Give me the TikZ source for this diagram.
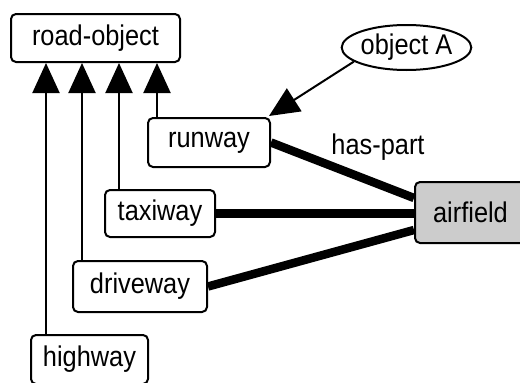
\documentclass[tikz,border=0pt]{standalone}
\usepackage{fontspec}
\setmainfont[FakeStretch=0.89]{Liberation Sans}
\usetikzlibrary{arrows.meta,shapes.geometric}
\begin{document}
\begin{tikzpicture}[x=1pt,y=-1pt,
  lbl/.style={font=\fontsize{28.5}{32}\selectfont},
  box/.style={draw, line width=2pt, rounded corners=5pt, inner sep=0pt, lbl, fill=white},
  isa/.style={line width=2pt, -{Triangle[width=27pt,length=30pt]}},
  part/.style={line width=8.5pt}]
\useasboundingbox (0,0) rectangle (520,383);
\node[box, minimum width=169pt, minimum height=48pt] (road) at (95.5,38) {road-object};
\node[box, minimum width=122pt, minimum height=49pt] (runway) at (209,142.5) {runway};
\node[box, minimum width=110pt, minimum height=47pt] (taxiway) at (160,213.5) {taxiway};
\node[box, minimum width=134pt, minimum height=51pt] (driveway) at (140,286.5) {driveway};
\node[box, minimum width=117pt, minimum height=49pt] (highway) at (89.5,359.5) {highway};
\node[box, fill={rgb,255:red,204;green,204;blue,204}, minimum width=111pt, minimum height=61pt] (airfield) at (470.5,212.5) {airfield};
\node[draw, ellipse, line width=2pt, inner sep=0pt, minimum width=123pt, minimum height=45pt, lbl] (objA) at (406.5,47.5) {object A};
\node[lbl, inner sep=0pt] (haspart) at (378,147) {has-part};
% is-a arrows
\draw[isa] ([xshift=10pt]runway.north west) -- ([xshift=10pt]runway.north west |- road.south);
\draw[isa] ([xshift=15pt]taxiway.north west) -- ([xshift=15pt]taxiway.north west |- road.south);
\draw[isa] ([xshift=10pt]driveway.north west) -- ([xshift=10pt]driveway.north west |- road.south);
\draw[isa] ([xshift=16pt]highway.north west) -- ([xshift=16pt]highway.north west |- road.south);
\draw[isa] (objA.195) -- ([xshift=-2pt,yshift=1pt]runway.north east);
% has-part lines
\draw[part] (runway.east) -- ([yshift=14.5pt]airfield.west);
\draw[part] (taxiway.east) -- (taxiway.east -| airfield.west);
\draw[part] (driveway.east) -- ([yshift=-17.5pt]airfield.west);
\end{tikzpicture}
\end{document}
